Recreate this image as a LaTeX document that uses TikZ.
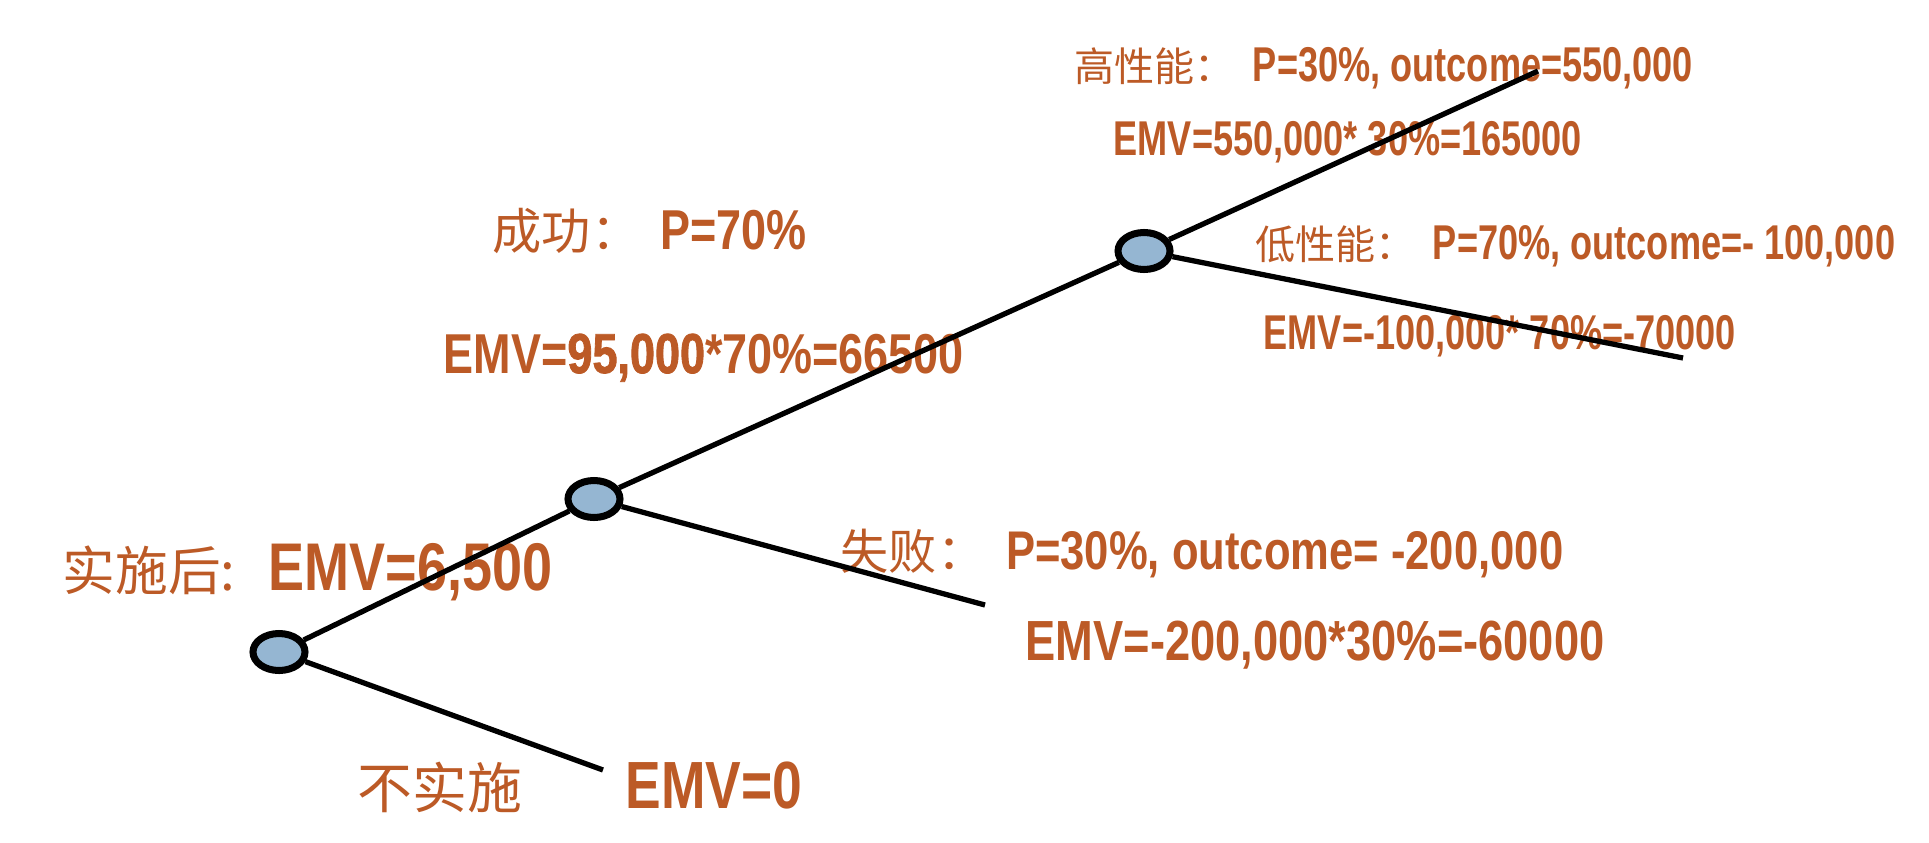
\documentclass[tikz,border=0pt]{standalone}
\usepackage{fontspec}
\usepackage{xcolor}
\usetikzlibrary{shapes.geometric}
\newfontfamily\cjk{Noto Sans CJK SC}
\newfontfamily\lat{Liberation Sans}[UprightFont={* Bold}, FakeStretch=0.8]
\newfontfamily\latsm{Liberation Sans}[UprightFont={* Bold}, FakeStretch=0.74]
\newfontfamily\latbf{Liberation Sans}[UprightFont={* Bold}, FakeStretch=0.8, FakeBold=1.5]
\definecolor{emvbrown}{RGB}{188,90,38}
\definecolor{chanceblue}{RGB}{149,182,210}

\begin{document}
\begin{tikzpicture}[chance/.style={ellipse, draw=black, line width=2pt, fill=chanceblue, minimum width=0.52cm, minimum height=0.37cm, inner sep=0pt},
	branch/.style={line width=1.5pt},
	lbl/.style={anchor=base west, inner sep=0pt, text=emvbrown}]
	\useasboundingbox (0, 0) rectangle (19.29, 8.42);
	% Labels:
	\node[lbl](hiP) at (10.74, 7.61){\cjk\fontsize{11.4}{12}\selectfont 高性能：\hspace{0.18cm}\latsm\fontsize{13.9}{14}\selectfont P=30\%, outcome=550,000};
	\node[lbl](hiEMV) at (11.13, 6.87){\latsm\fontsize{13.9}{14}\selectfont EMV=550,000* 30\%=165000};
	\node[lbl](loP) at (12.55, 5.83){\cjk\fontsize{11.4}{12}\selectfont 低性能：\hspace{0.17cm}\latsm\fontsize{13.9}{14}\selectfont P=70\%, outcome=- 100,000};
	\node[lbl](loEMV) at (12.63, 4.93){\latsm\fontsize{13.9}{14}\selectfont EMV=-100,000* 70\%=-70000};
	\node[lbl](okP) at (4.92, 5.93){\cjk\fontsize{14}{15}\selectfont 成功：\hspace{0.2cm}\lat\fontsize{16}{17}\selectfont P=70\%};
	\node[lbl](okEMV) at (4.43, 4.69){\lat\fontsize{16}{17}\selectfont EMV={\latbf 95,000}*70\%=66500};
	\node[lbl](doTxt) at (0.62, 2.52){\cjk\fontsize{15}{16}\selectfont 实施后:};
	\node[lbl](doEMV) at (2.68, 2.52){\lat\fontsize{19.2}{20}\selectfont EMV=6,500};
	\node[lbl](failP) at (8.40, 2.73){\cjk\fontsize{13.7}{14}\selectfont 失败：\hspace{0.21cm}\lat\fontsize{15.5}{16}\selectfont P=30\%, outcome= -200,000};
	\node[lbl](failEMV) at (10.25, 1.82){\lat\fontsize{16.1}{17}\selectfont EMV=-200,000*30\%=-60000};
	\node[lbl](noTxt) at (3.57, 0.34){\cjk\fontsize{15.6}{16}\selectfont 不实施};
	\node[lbl](noEMV) at (6.25, 0.34){\lat\fontsize{19}{20}\selectfont EMV=0};
	% Chance nodes and branch ends:
	\node[chance](A) at (2.79, 1.90){};
	\node[chance](B) at (5.94, 3.43){};
	\node[chance](C) at (11.44, 5.91){};
	\coordinate (hi) at (15.38, 7.71);
	\coordinate (lo) at (16.83, 4.84);
	\coordinate (fail) at (9.85, 2.37);
	\coordinate (no) at (6.03, 0.72);
	% Branches:
	\draw[branch] (A) -- (B);
	\draw[branch] (A) -- (no);
	\draw[branch] (B) -- (C);
	\draw[branch] (B) -- (fail);
	\draw[branch] (C) -- (hi);
	\draw[branch] (C) -- (lo);
\end{tikzpicture}
\end{document}
